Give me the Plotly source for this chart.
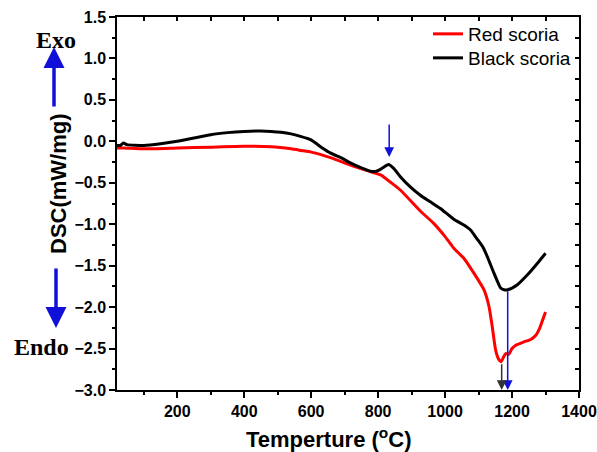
import plotly.graph_objects as go

# ---- data ----
temp_red = [20, 40, 100, 200, 300, 400, 480, 540, 570, 600, 660, 720, 780, 810, 836, 867,
            926, 966, 1000, 1026, 1056, 1086, 1116, 1131, 1141, 1151, 1160, 1167, 1175, 1181,
            1190, 1200, 1211, 1235, 1256, 1271, 1283, 1291, 1300]
dsc_red = [-0.08, -0.08, -0.09, -0.08, -0.07, -0.06, -0.065, -0.09, -0.11, -0.13, -0.20, -0.29,
           -0.37, -0.41, -0.49, -0.59, -0.84, -0.99, -1.15, -1.29, -1.41, -1.59, -1.79, -1.99,
           -2.24, -2.52, -2.63, -2.66, -2.60, -2.56, -2.57, -2.50, -2.46, -2.42, -2.39, -2.34,
           -2.25, -2.16, -2.06]

temp_black = [20, 30, 39, 50, 100, 150, 200, 250, 300, 350, 400, 450, 480, 510, 540, 568, 598,
              630, 657, 690, 717, 750, 777, 795, 810, 831, 845, 867, 896, 926, 956, 986, 1026,
              1056, 1076, 1096, 1112, 1126, 1146, 1166, 1176, 1187, 1200, 1216, 1246, 1276, 1300]
dsc_black = [-0.05, -0.05, -0.02, -0.04, -0.05, -0.03, 0.0, 0.04, 0.08, 0.105, 0.12, 0.125, 0.12,
             0.11, 0.09, 0.06, 0.02, -0.07, -0.14, -0.20, -0.26, -0.32, -0.36, -0.36, -0.33,
             -0.28, -0.32, -0.43, -0.55, -0.65, -0.73, -0.81, -0.94, -1.01, -1.07, -1.18, -1.27,
             -1.39, -1.59, -1.77, -1.79, -1.79, -1.77, -1.73, -1.61, -1.47, -1.35]

series_names = ["Red scoria", "Black scoria"]
x_range = [20, 1400]
y_range = [-3.0, 1.5]

# marker arrows (data coords)
peak_arrow = dict(x=833, y_tip=-0.19, y_tail=0.22)
black_min = dict(x=1187, y=-1.79)
red_min = dict(x=1169, y=-2.67)

FONT = "Arial, Liberation Sans, sans-serif"
SERIF = "Times New Roman, Liberation Serif, serif"
BLUE = "#1010d8"

W, H = 597, 452
L, R, T, B = 117, 18, 17, 62
pw, ph = W - L - R, H - T - B


def px(xp):
    return (xp - L) / pw


def py(yp):
    return (H - B - yp) / ph


fig = go.Figure()
fig.add_trace(go.Scatter(x=temp_red, y=dsc_red, mode="lines", name=series_names[0],
                         legend="legend",
                         line=dict(color="#ff0000", width=3, shape="spline", smoothing=0.5)))
fig.add_trace(go.Scatter(x=temp_black, y=dsc_black, mode="lines", name=series_names[1],
                         legend="legend2",
                         line=dict(color="#000000", width=3, shape="spline", smoothing=0.5)))
# invisible trace to activate mirror axes (top/right with inside ticks)
fig.add_trace(go.Scatter(x=[x_range[0]], y=[y_range[0]], xaxis="x2", yaxis="y2",
                         mode="markers", marker=dict(opacity=0), showlegend=False,
                         hoverinfo="skip"))

axis_common = dict(showline=True, linecolor="black", linewidth=1.5, showgrid=False,
                   zeroline=False, mirror=False, automargin=False)

legend_common = dict(xanchor="left", yanchor="middle", bgcolor="rgba(0,0,0,0)", borderwidth=0,
                     font=dict(size=19, family=FONT), itemwidth=30)

fig.update_layout(
    width=W, height=H,
    margin=dict(l=L, r=R, t=T, b=B, autoexpand=False),
    paper_bgcolor="white", plot_bgcolor="white",
    font=dict(family=FONT, color="black"),
    xaxis=dict(range=x_range, tick0=0, dtick=200, ticks="outside", ticklen=6, tickwidth=1.5,
               tickcolor="black",
               tickfont=dict(size=16, family=FONT, weight="bold"),
               minor=dict(ticks="outside", ticklen=3, tickwidth=1.5, dtick=100, tick0=0,
                          tickcolor="black"),
               **axis_common),
    yaxis=dict(range=y_range, tick0=0, dtick=0.5, tickformat=".1f", ticks="outside", ticklen=6,
               tickwidth=1.5, tickcolor="black",
               tickfont=dict(size=16, family=FONT, weight="bold"),
               minor=dict(ticks="outside", ticklen=3, tickwidth=1.5, dtick=0.25, tick0=0,
                          tickcolor="black"),
               **axis_common),
    xaxis2=dict(range=x_range, overlaying="x", side="top", anchor="y2", tick0=0, dtick=100,
                ticks="inside", ticklen=4, tickwidth=1.5, tickcolor="black",
                showticklabels=False, **axis_common),
    yaxis2=dict(range=y_range, overlaying="y", side="right", anchor="x2", tick0=0, dtick=0.25,
                ticks="inside", ticklen=4, tickwidth=1.5, tickcolor="black",
                showticklabels=False, **axis_common),
    legend=dict(x=px(428), y=py(34), **legend_common),
    legend2=dict(x=px(428), y=py(58), **legend_common),
    showlegend=True,
)

annotations = [
    # axis titles
    dict(text="<b>Temperture (<sup>o</sup>C)</b>", x=px(328), y=py(438), xref="paper",
         yref="paper", showarrow=False, font=dict(size=22, family=FONT), xanchor="center",
         yanchor="middle"),
    dict(text="<b>DSC(mW/mg)</b>", x=px(58), y=py(184), xref="paper", yref="paper",
         showarrow=False, textangle=-90, font=dict(size=22, family=FONT), xanchor="center",
         yanchor="middle"),
    # Exo / Endo
    dict(text="<b>Exo</b>", x=px(56), y=py(40), xref="paper", yref="paper", showarrow=False,
         font=dict(size=24, family=SERIF), xanchor="center", yanchor="middle"),
    dict(text="<b>Endo</b>", x=px(41), y=py(347), xref="paper", yref="paper", showarrow=False,
         font=dict(size=24, family=SERIF), xanchor="center", yanchor="middle"),
    dict(text="", x=px(54), y=py(47), xref="paper", yref="paper", ax=0, ay=61,
         showarrow=True, arrowhead=2, arrowsize=1.2, arrowwidth=3.5, arrowcolor=BLUE,
         standoff=0),
    dict(text="", x=px(56), y=py(328), xref="paper", yref="paper", ax=0, ay=-61,
         showarrow=True, arrowhead=2, arrowsize=1.2, arrowwidth=3.5, arrowcolor=BLUE,
         standoff=0),
    # peak marker arrow
    dict(text="", x=peak_arrow["x"], y=peak_arrow["y_tip"], xref="x", yref="y",
         ax=peak_arrow["x"], ay=peak_arrow["y_tail"], axref="x", ayref="y",
         showarrow=True, arrowhead=2, arrowsize=1.3, arrowwidth=1.5, arrowcolor=BLUE,
         standoff=0),
    # minimum drop lines
    dict(text="", x=black_min["x"], y=y_range[0], xref="x", yref="y",
         ax=black_min["x"], ay=black_min["y"], axref="x", ayref="y",
         showarrow=True, arrowhead=2, arrowsize=1.3, arrowwidth=1.5, arrowcolor=BLUE,
         standoff=0),
    dict(text="", x=red_min["x"], y=y_range[0], xref="x", yref="y",
         ax=red_min["x"], ay=red_min["y"], axref="x", ayref="y",
         showarrow=True, arrowhead=2, arrowsize=1.3, arrowwidth=1.5, arrowcolor="#333333",
         standoff=0),
]
fig.update_layout(annotations=annotations)

fig.write_html("out.html")
